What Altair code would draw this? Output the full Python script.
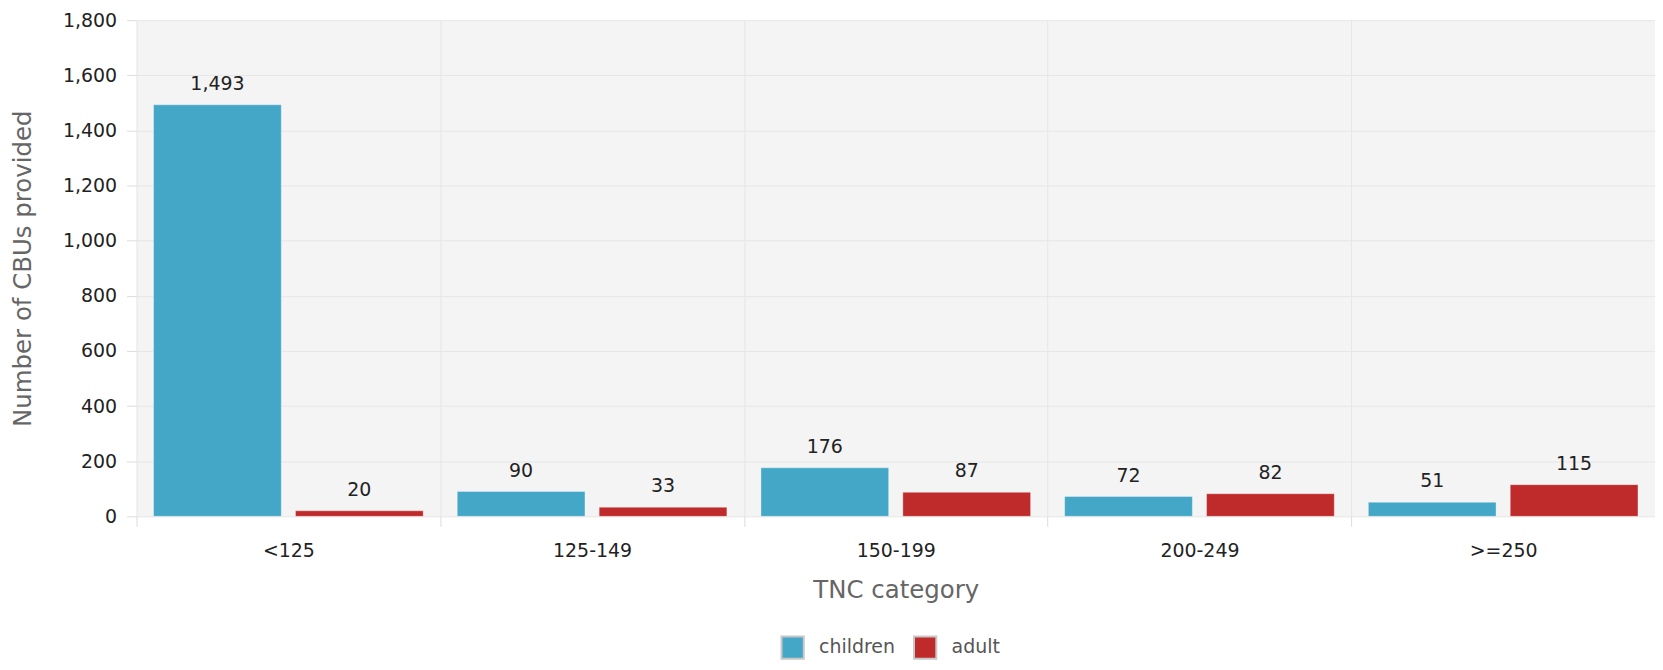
import altair as alt
import pandas as pd

categories = ["<125", "125-149", "150-199", "200-249", ">=250"]
children = [1493, 90, 176, 72, 51]
adult = [20, 33, 87, 82, 115]
groups = ["children", "adult"]
colors = ["#44a7c7", "#bf2a2b"]
y_ticks = [0, 200, 400, 600, 800, 1000, 1200, 1400, 1600, 1800]

rows = []
for i, c in enumerate(categories):
    rows.append({"category": c, "group": "children", "value": children[i]})
    rows.append({"category": c, "group": "adult", "value": adult[i]})
df = pd.DataFrame(rows)

FONT = "DejaVu Sans"
W, H = 1524, 498

x = alt.X(
    "category:N",
    sort=categories,
    scale=alt.Scale(paddingInner=0, paddingOuter=0),
    axis=alt.Axis(
        title="TNC category",
        tickBand="extent",
        grid=True,
        gridColor="#e6e6e6",
        tickColor="#dcdcdc",
        tickSize=10,
        domain=False,
        labelAngle=0,
        labelFont=FONT,
        labelFontSize=19,
        labelColor="#222222",
        labelPadding=15,
        titleFont=FONT,
        titleFontSize=24.5,
        titleColor="#666666",
        titleFontWeight="normal",
        titlePadding=18,
    ),
)

y = alt.Y(
    "value:Q",
    scale=alt.Scale(domain=[0, 1800], nice=False),
    axis=alt.Axis(
        title="Number of CBUs provided",
        values=y_ticks,
        format=",.0f",
        tickSize=10,
        tickColor="#dcdcdc",
        domain=False,
        gridColor="#e6e6e6",
        labelFont=FONT,
        labelFontSize=19,
        labelColor="#222222",
        labelPadding=10,
        titleFont=FONT,
        titleFontSize=24.5,
        titleColor="#666666",
        titleFontWeight="normal",
        titleX=-113,
        titleY=249,
        titleAngle=270,
        titleAlign="center",
        titleBaseline="middle",
    ),
)

xoff = alt.XOffset(
    "group:N", sort=groups, scale=alt.Scale(paddingInner=0.1, paddingOuter=0.12)
)

color = alt.Color(
    "group:N",
    sort=groups,
    scale=alt.Scale(domain=groups, range=colors),
    legend=alt.Legend(
        title=None,
        orient="none",
        legendX=646,
        legendY=617,
        direction="horizontal",
        symbolType="square",
        symbolSize=500,
        symbolStrokeColor="#c8c8c8",
        symbolStrokeWidth=2,
        symbolOpacity=1,
        labelFont=FONT,
        labelFontSize=19,
        labelColor="#555555",
        labelOffset=14,
        columnPadding=14,
        padding=0,
    ),
)

bars = alt.Chart(df).mark_bar(stroke="#ffffff", strokeOpacity=0.35, strokeWidth=1).encode(
    x=x, xOffset=xoff, y=y, color=color
)

labels = alt.Chart(df).mark_text(
    baseline="alphabetic", dy=-15, font=FONT, fontSize=19, color="#222222"
).encode(
    x=alt.X("category:N", sort=categories),
    xOffset=alt.XOffset("group:N", sort=groups),
    y=alt.Y("value:Q"),
    text=alt.Text("value:Q", format=",.0f"),
)

chart = (
    alt.layer(bars, labels)
    .properties(
        width=W,
        height=H,
        padding={"left": 129, "top": 11, "right": 0, "bottom": 145},
        autosize=alt.AutoSizeParams(type="none"),
    )
    .configure_view(fill="#f4f4f4", strokeOpacity=0)
)

chart.save("out.html", embed_options={"renderer": "svg", "actions": False})
